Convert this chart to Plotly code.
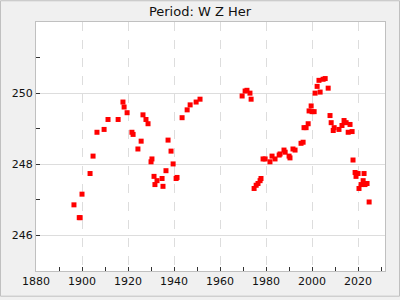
import plotly.graph_objects as go

years = [1896.5, 1898.8, 1899.2, 1900.0, 1903.5, 1904.8, 1906.5, 1909.6, 1911.3, 1915.7,
         1917.8, 1918.3, 1919.6, 1921.7, 1922.2, 1924.3, 1925.7, 1926.5, 1927.8, 1928.7,
         1930.0, 1930.4, 1931.3, 1931.7, 1932.6, 1934.8, 1935.2, 1936.5, 1937.4, 1938.7,
         1939.6, 1940.9, 1941.3, 1943.5, 1945.7, 1947.0, 1949.6, 1951.3,
         1969.6, 1970.9, 1971.7, 1973.0, 1973.5, 1974.8, 1975.7, 1976.5, 1977.4, 1977.8,
         1978.7, 1979.6, 1981.7, 1982.6, 1983.9, 1985.7, 1986.1, 1987.8, 1988.3, 1990.0,
         1990.4, 1991.7, 1992.6, 1995.2, 1996.1, 1996.5, 1997.4, 1998.3, 1998.7, 1999.6,
         2000.0, 2000.9, 2001.3, 2002.2, 2003.0, 2003.5, 2004.8, 2005.7, 2007.0, 2007.8,
         2008.3, 2009.2, 2009.6, 2011.7, 2013.0, 2013.9, 2014.8, 2015.7, 2016.5, 2017.4,
         2017.8, 2018.7, 2019.1, 2020.0, 2020.4, 2021.3, 2022.2, 2022.6, 2023.0, 2023.9,
         2024.8]
periods = [246.86, 246.50, 246.50, 247.16, 247.74, 248.23, 248.90, 248.98, 249.26, 249.26,
           249.75, 249.61, 249.45, 248.90, 248.84, 248.43, 248.65, 249.39, 249.26, 249.14,
           248.07, 248.15, 247.66, 247.43, 247.54, 247.60, 247.38, 247.82, 248.68, 248.37,
           248.01, 247.60, 247.63, 249.31, 249.53, 249.67, 249.75, 249.83,
           249.92, 250.06, 250.08, 250.00, 249.83, 247.32, 247.41, 247.46, 247.54, 247.60,
           248.15, 248.15, 248.07, 248.23, 248.15, 248.26, 248.29, 248.40, 248.34, 248.23,
           248.18, 248.43, 248.40, 248.59, 248.62, 249.03, 249.03, 249.14, 249.50, 249.64,
           249.48, 249.48, 250.00, 250.19, 250.36, 250.03, 250.39, 250.41, 250.14, 249.37,
           249.17, 248.95, 249.03, 248.98, 249.09, 249.23, 249.17, 248.90, 249.12, 248.92,
           248.12, 247.77, 247.66, 247.74, 247.32, 247.43, 247.54, 247.74, 247.43, 247.46,
           246.94]

title_text = "Period: W Z Her"
x_range = [1880, 2031.7]
y_range = [245, 252]

fig = go.Figure()
fig.add_trace(go.Scatter(
    x=years, y=periods, mode="markers",
    marker=dict(symbol="square", size=5, color="#ff0000", line=dict(width=0)),
    showlegend=False,
))

font = "DejaVu Sans, sans-serif"
fig.update_layout(
    width=400, height=300,
    margin=dict(l=36, r=15, t=22, b=26, pad=0),
    paper_bgcolor="#f0f0f0",
    plot_bgcolor="#ffffff",
    font=dict(family=font, size=11, color="#111111"),
    title=dict(text=title_text, x=0.5, xref="container", xanchor="center",
               y=1 - 11 / 300, yref="container", yanchor="middle",
               font=dict(family=font, size=13, color="#111111")),
    xaxis=dict(
        range=x_range, dtick=20, tick0=1880,
        showgrid=True, gridcolor="#dddddd", griddash="dash", gridwidth=1,
        zeroline=False,
        showline=True, linecolor="#c0c0c0", linewidth=1, mirror=True,
        ticks="inside", ticklen=4, tickcolor="#333333",
        minor=dict(dtick=10, tick0=1880, ticks="inside", ticklen=4, tickcolor="#333333", showgrid=False),
        tickfont=dict(size=11),
    ),
    yaxis=dict(
        range=y_range, tickvals=[246, 248, 250],
        showgrid=True, gridcolor="#dddddd", gridwidth=1,
        zeroline=False,
        showline=True, linecolor="#c0c0c0", linewidth=1, mirror=True,
        ticks="inside", ticklen=4, tickcolor="#333333",
        minor=dict(tickvals=[247, 249, 251], ticks="inside", ticklen=4, tickcolor="#333333", showgrid=False),
        tickfont=dict(size=11),
    ),
)

# outer frame around the whole image
fig.add_shape(type="rect", xref="paper", yref="paper",
              x0=(0.5 - 36) / 349, x1=(399.5 - 36) / 349,
              y0=(274 - 299.5) / 252, y1=(274 - 0.5) / 252,
              line=dict(color="#c0c0c0", width=1), layer="above")

fig.write_html("out.html")
